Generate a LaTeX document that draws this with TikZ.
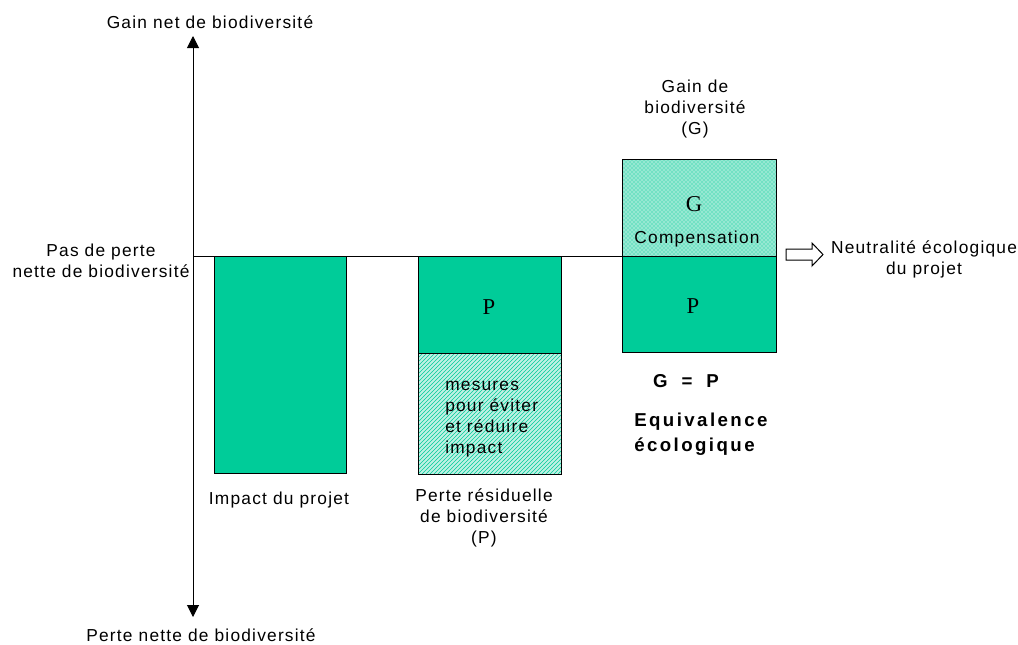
\documentclass[tikz,border=0pt]{standalone}
\usepackage{fontspec}
\usetikzlibrary{patterns,arrows.meta}
\newfontfamily\lab{Liberation Sans}[LetterSpace=7]
\newfontfamily\labbold{Liberation Sans}[LetterSpace=13]
\newfontfamily\serifp{Liberation Serif}
\definecolor{bgreen}{RGB}{0,204,153}
\definecolor{lgreen}{RGB}{150,232,210}
\tikzset{
  lbl/.style={inner sep=0pt, align=center, font=\lab\fontsize{13}{15.75}\selectfont},
  blbl/.style={inner sep=0pt, align=left, font=\labbold\bfseries\fontsize{14}{18.75}\selectfont},
  letter/.style={inner sep=0pt, font=\serifp\fontsize{17}{18}\selectfont},
  solidbox/.style={fill=bgreen, draw=black, line width=0.75pt},
  hatchbox/.style={draw=black, line width=0.75pt},
  axisline/.style={line width=0.75pt, {Triangle[width=9pt,length=9pt]}-{Triangle[width=9pt,length=9pt]}},
  thin/.style={line width=0.75pt},
  hollow/.style={draw=black, fill=white, line width=0.75pt}
}
\begin{document}
\begin{tikzpicture}[x=0.75pt,y=-0.75pt]
\useasboundingbox (0,0) rectangle (1018,644);
% axis
\coordinate (atop) at (193,36);
\coordinate (abot) at (193,617);
\coordinate (o) at (193,256);
\coordinate (e) at (622,256);
\draw[axisline] (abot) -- (atop);
\node[lbl] (gainnet) at (210,22) {Gain net de biodiversité};
\node[lbl] (pertenette) at (201,635) {Perte nette de biodiversité};
\node[lbl] (pasdeperte) at (101,261) {Pas de perte\\nette de biodiversité};
% box 1
\draw[solidbox] (214,256) rectangle (346,473);
\node[lbl] (impact) at (279,500) {Impact du projet};
% box 2
\draw[solidbox] (418,256) rectangle (561,353);
\fill[lgreen!60!white] (418,353) rectangle (561,474);
\fill[pattern=north east lines, pattern color=bgreen] (418,353) rectangle (561,474);
\draw[hatchbox] (418,353) rectangle (561,474);
\node[letter] (p1) at (489,307) {P};
\node[lbl, align=left, anchor=west] (mesures) at (445,419.5) {mesures\\pour éviter\\et réduire\\impact};
\node[lbl] (residuelle) at (484,518) {Perte résiduelle\\de biodiversité\\(P)};
% box 3
\fill[lgreen] (622,159) rectangle (776,256);
\fill[pattern=crosshatch dots, pattern color=bgreen] (622,159) rectangle (776,256);
\draw[hatchbox] (622,159) rectangle (776,256);
\draw[solidbox] (622,256) rectangle (776,352);
\node[letter] (g) at (694,204) {G};
\node[lbl] (compensation) at (697,239) {Compensation};
\node[letter] (p2) at (693,306) {P};
\node[lbl] (gainde) at (695,109) {Gain de\\biodiversité\\(G)};
% baseline
\draw[thin] (o) -- (e);
% hollow arrow
\draw[hollow] (786,249) -- (812,249) -- (812,243) -- (823,254.5) -- (812,266) -- (812,260) -- (786,260) -- cycle;
\node[lbl] (neutralite) at (924,259) {Neutralité écologique\\du projet};
% equivalence
\node[blbl] (gp) at (686,381) {G\hspace{0.75em}=\hspace{0.75em}P};
\node[blbl, anchor=west] (equiv) at (634,434.5) {Equivalence\\écologique};
\end{tikzpicture}
\end{document}
